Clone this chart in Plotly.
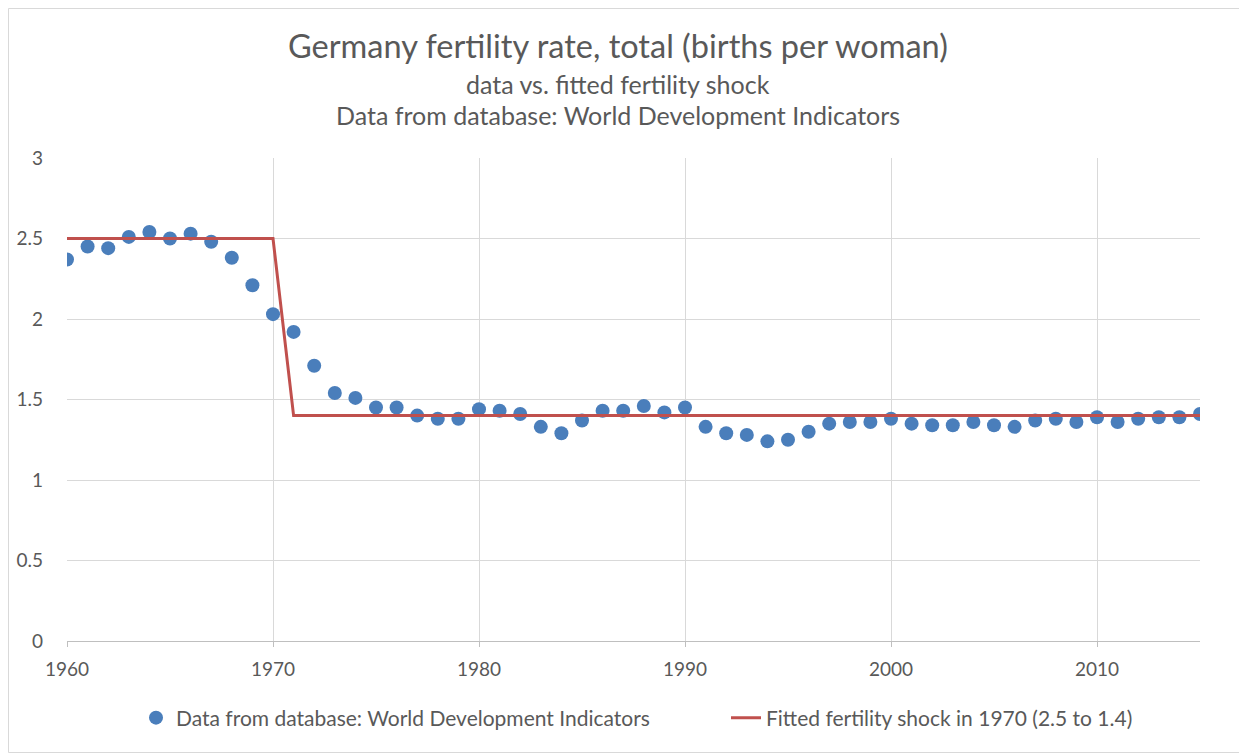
import plotly.graph_objects as go

years = list(range(1960, 2016))
fertility = [
    2.37, 2.45, 2.44, 2.51, 2.54, 2.50, 2.53, 2.48, 2.38, 2.21,
    2.03, 1.92, 1.71, 1.54, 1.51, 1.45, 1.45, 1.40, 1.38, 1.38,
    1.44, 1.43, 1.41, 1.33, 1.29, 1.37, 1.43, 1.43, 1.46, 1.42,
    1.45, 1.33, 1.29, 1.28, 1.24, 1.25, 1.30, 1.35, 1.36, 1.36,
    1.38, 1.35, 1.34, 1.34, 1.36, 1.34, 1.33, 1.37, 1.38, 1.36,
    1.39, 1.36, 1.38, 1.39, 1.39, 1.41,
]
# step fit: 2.5 until 1970, 1.4 from 1971 on
fitted = [2.5] * 11 + [1.4] * 45

FONT = "Lato, 'Open Sans', sans-serif"
GRAY = "#595959"

# page body has an 8px margin, so the plot area is placed with that in mind
PX_LEFT, PX_W, PX_TOP, PX_H = 67, 1133, 158, 483


def px_x(p):
    return (p - PX_LEFT) / PX_W


def px_y(p):
    return (PX_TOP + PX_H - p) / PX_H


fig = go.Figure()
fig.add_trace(
    go.Scatter(
        x=years,
        y=fertility,
        mode="markers",
        name="Data from database: World Development Indicators",
        marker=dict(color="#4a7ebb", size=14),
        legend="legend",
    )
)
fig.add_trace(
    go.Scatter(
        x=years,
        y=fitted,
        mode="lines",
        name="Fitted fertility shock in 1970 (2.5 to 1.4)",
        line=dict(color="#c0504d", width=3),
        legend="legend2",
    )
)

titles = [
    ("Germany fertility rate, total (births per woman)", 32.5, 45),
    ("data vs. fitted fertility shock", 25, 84),
    ("Data from database: World Development Indicators", 25, 115),
]
for text, size, ypx in titles:
    fig.add_annotation(
        text=text,
        x=px_x(617.5),
        xref="paper",
        y=px_y(ypx),
        yref="paper",
        showarrow=False,
        font=dict(size=size, color=GRAY, family=FONT),
        xanchor="center",
        yanchor="middle",
    )

# light border round the chart area
fig.add_shape(
    type="rect",
    xref="paper",
    yref="paper",
    x0=px_x(8.5),
    x1=px_x(1245.5),
    y0=px_y(752.5),
    y1=px_y(8.5),
    line=dict(color="#d9d9d9", width=1),
    layer="below",
)

legend_style = dict(
    orientation="h",
    xanchor="left",
    yanchor="middle",
    y=px_y(718),
    font=dict(size=21, color=GRAY, family=FONT),
    bgcolor="rgba(0,0,0,0)",
)

fig.update_layout(
    width=1239,
    height=746,
    margin=dict(l=59, r=47, t=150, b=113, autoexpand=False),
    plot_bgcolor="white",
    paper_bgcolor="white",
    font=dict(family=FONT, color=GRAY, size=19),
    showlegend=True,
    legend=dict(x=px_x(136), **legend_style),
    legend2=dict(x=px_x(726), **legend_style),
)
fig.update_xaxes(
    range=[1960, 2015],
    tickvals=[1960, 1970, 1980, 1990, 2000, 2010],
    showgrid=True,
    gridcolor="#d9d9d9",
    zeroline=False,
    showline=True,
    linecolor="#bfbfbf",
    ticks="outside",
    ticklen=5,
    tickcolor="#bfbfbf",
    ticklabelstandoff=6,
    tickfont=dict(size=19, color=GRAY),
    automargin=False,
)
fig.update_yaxes(
    range=[0, 3],
    dtick=0.5,
    showgrid=True,
    gridcolor="#d9d9d9",
    zeroline=False,
    showline=False,
    ticks="",
    ticklabelstandoff=23,
    tickfont=dict(size=19, color=GRAY),
    automargin=False,
)

fig.write_html("out.html")
